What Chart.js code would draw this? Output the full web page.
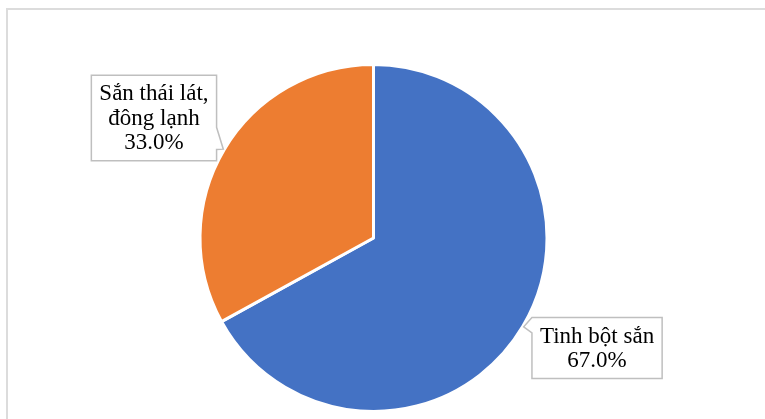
<!DOCTYPE html>
<html>
<head>
<meta charset="utf-8">
<script src="https://cdn.jsdelivr.net/npm/chart.js@4.4.1/dist/chart.umd.min.js"></script>
<style>
  html, body { margin: 0; padding: 0; background: #fff; overflow: hidden; }
  #wrap { position: relative; width: 765px; height: 419px; }
  #frame { position: absolute; left: 6px; top: 8px; width: 800px; height: 450px;
           border-left: 2px solid #dcdcdc; border-top: 2px solid #dcdcdc; }
  #canvas { position: absolute; left: 0; top: 0; }
</style>
</head>
<body>
<div id="wrap">
  <div id="frame"></div>
  <canvas id="canvas" width="765" height="419"></canvas>
</div>
<script>
var labels = [["Tinh bột sắn"], ["Sắn thái lát,", "đông lạnh"]];
var shares = [67.0, 33.0];
var colors = ["#4472C4", "#ED7D31"];

// callout placement per slice: distance from centre (in radii), nudge, wedge span on the box side
var callouts = [
    { dist: 1.45, dx: 7, dy: -18, wedge: [0.0, 0.25] },
    { dist: 1.45, dx: -3, dy: 8, wedge: [0.61, 0.87] }
];

var calloutPlugin = {
    id: 'callouts',
    afterDatasetsDraw: function(chart){
        var ctx = chart.ctx;
        var arcs = chart.getDatasetMeta(0).data;
        var lineH = 24.5, padX = 8, padY = 6;
        ctx.save();
        ctx.font = '23px "Liberation Serif", "Times New Roman", serif';
        ctx.textAlign = 'center';
        ctx.textBaseline = 'middle';
        for (var i = 0; i < arcs.length; i++) {
            var a = arcs[i];
            var mid = (a.startAngle + a.endAngle) / 2;
            var r = a.outerRadius;
            var c = callouts[i];
            var lines = labels[i].concat([shares[i].toFixed(1) + "%"]);
            var w = 0;
            lines.forEach(function(t){ w = Math.max(w, ctx.measureText(t).width); });
            var bw = w + padX * 2, bh = lines.length * lineH + padY * 2;
            var cx = a.x + Math.cos(mid) * r * c.dist + c.dx;
            var cy = a.y + Math.sin(mid) * r * c.dist + c.dy;
            var x0 = cx - bw / 2, y0 = cy - bh / 2, x1 = cx + bw / 2, y1 = cy + bh / 2;
            var tx = a.x + Math.cos(mid) * (r + 1);
            var ty = a.y + Math.sin(mid) * (r + 1);
            var wa = y0 + bh * c.wedge[0], wb = y0 + bh * c.wedge[1];

            ctx.beginPath();
            ctx.moveTo(x0, y0);
            if (tx < x0) {
                ctx.lineTo(x1, y0); ctx.lineTo(x1, y1); ctx.lineTo(x0, y1);
                ctx.lineTo(x0, wb); ctx.lineTo(tx, ty); ctx.lineTo(x0, wa);
            } else {
                ctx.lineTo(x1, y0); ctx.lineTo(x1, wa); ctx.lineTo(tx, ty);
                ctx.lineTo(x1, wb); ctx.lineTo(x1, y1); ctx.lineTo(x0, y1);
            }
            ctx.closePath();
            ctx.fillStyle = '#ffffff';
            ctx.fill();
            ctx.lineWidth = 1.5;
            ctx.strokeStyle = '#bfbfbf';
            ctx.stroke();

            ctx.fillStyle = '#000000';
            for (var j = 0; j < lines.length; j++) {
                ctx.fillText(lines[j], cx, y0 + padY + lineH * (j + 0.5) + 1);
            }
        }
        ctx.restore();
    }
};

new Chart(document.getElementById('canvas'), {
    type: 'pie',
    data: {
        labels: labels,
        datasets: [{
            data: shares,
            backgroundColor: colors,
            borderColor: '#ffffff',
            borderWidth: 3
        }]
    },
    options: {
        responsive: false,
        animation: false,
        layout: { padding: { top: 63, bottom: 6, left: 0, right: 18 } },
        plugins: {
            legend: { display: false },
            tooltip: { enabled: false }
        }
    },
    plugins: [calloutPlugin]
});
</script>
</body>
</html>
